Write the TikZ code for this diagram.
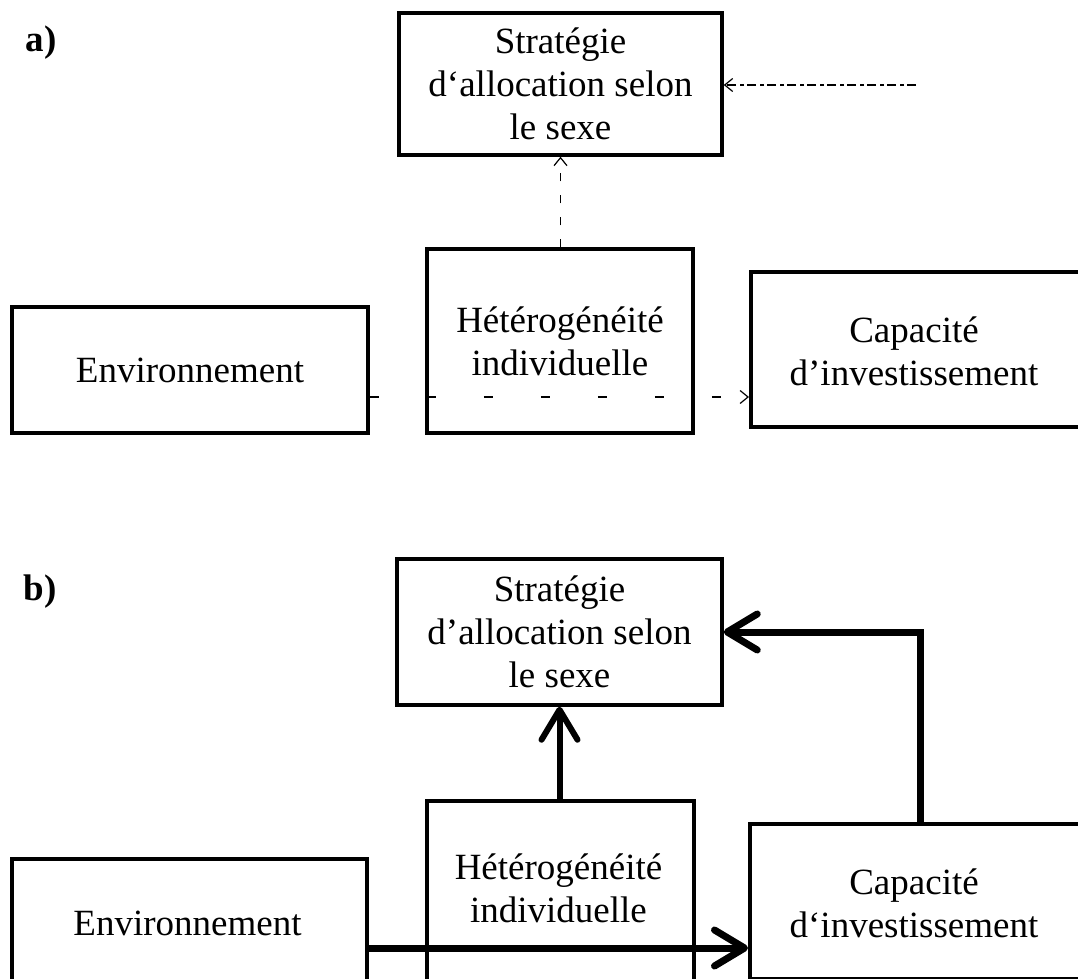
\documentclass[tikz,border=0pt]{standalone}
\usepackage{fontspec}
\setmainfont{Liberation Serif}
\usetikzlibrary{arrows.meta}
\begin{document}
\begin{tikzpicture}[x=1pt,y=-1pt,
  box/.style={draw=black,line width=3.5pt,rectangle,inner sep=0pt,align=center,
    font=\fontsize{37}{43}\selectfont},
  txt/.style={inner sep=0pt,align=center,font=\fontsize{37}{43}\selectfont},
  lbl/.style={inner sep=0pt,font=\bfseries\fontsize{37}{43}\selectfont},
  dasharrow/.style={line width=1.2pt,dash pattern=on 8pt off 14pt,
    -{Straight Barb[length=8pt,width=13pt]}},
  dasharrowb/.style={line width=1.2pt,dash pattern=on 9pt off 3pt on 4pt off 4pt,
    -{Straight Barb[length=8pt,width=13pt]}},
  thickarrow/.style={line width=7pt,-{Straight Barb[length=30pt,width=36pt,round]}}]
\useasboundingbox (0,0) rectangle (1078,979);

% ---------- panel a ----------
\node[lbl] (la) at (41,43) {a)};
\node[box,minimum width=323pt,minimum height=142pt] (sa) at (560.5,84)
  {Stratégie\\d‘allocation selon\\le sexe};
\node[box,minimum width=356pt,minimum height=126pt] (ea) at (190,370) {Environnement};
\node[box,minimum width=266pt,minimum height=184pt] (ha) at (560,341)
  {Hétérogénéité\\individuelle};
\node[box,minimum width=336pt,minimum height=155pt,anchor=west] (ca) at (749,349.5) {};
\node[txt] (cat) at (914,351) {Capacité\\d’investissement};

\coordinate (ra) at (916,85);
\coordinate (ya) at (0,397);
\draw[dasharrow] (sa.south |- ha.north) -- (sa.south);
\draw[dasharrowb] (ra) -- (sa.east |- ra);
\draw[line width=1.2pt,dash pattern=on 9pt off 48pt,-{Straight Barb[length=8pt,width=13pt]}]
  (ea.east |- ya) -- (ca.west |- ya);

% ---------- panel b ----------
\node[lbl] (lb) at (40,592) {b)};
\node[box,minimum width=325pt,minimum height=146pt] (sb) at (559.5,632)
  {Stratégie\\d’allocation selon\\le sexe};
\node[box,minimum width=355pt,minimum height=160pt,anchor=north west] (eb) at (10,857) {};
\node[txt] (ebt) at (187.5,923) {Environnement};
\node[box,minimum width=267pt,minimum height=200pt,anchor=north west] (hb) at (425,799) {};
\node[txt] (hbt) at (558.5,888) {Hétérogénéité\\individuelle};
\node[box,minimum width=336pt,minimum height=155pt,anchor=north west] (cb) at (748,822) {};
\node[txt] (cbt) at (914,903) {Capacité\\d‘investissement};

\coordinate (kb) at (920,632);
\coordinate (yb) at (0,948);
\draw[thickarrow,line width=6pt] (sb.south |- hb.north) -- (sb.south);
\draw[thickarrow] (kb |- cb.north) -- (kb) -- (sb.east |- kb);
\draw[thickarrow] (eb.east |- yb) -- (cb.west |- yb);
\end{tikzpicture}
\end{document}
